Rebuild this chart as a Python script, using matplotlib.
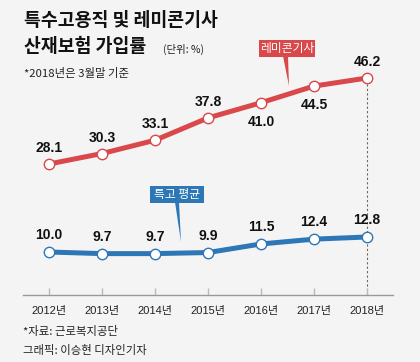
import matplotlib
matplotlib.use("Agg")
import matplotlib.pyplot as plt
from matplotlib.patches import Polygon

plt.rcParams['font.family'] = ['Liberation Sans', 'Noto Sans CJK KR', 'DejaVu Sans']

years = [2012, 2013, 2014, 2015, 2016, 2017, 2018]
year_labels = ['2012년', '2013년', '2014년', '2015년', '2016년', '2017년', '2018년']
remicon = [28.1, 30.3, 33.1, 37.8, 41.0, 44.5, 46.2]
special_avg = [10.0, 9.7, 9.7, 9.9, 11.5, 12.4, 12.8]
# label above (+1) or below (-1) the red point
remicon_label_side = [1, 1, 1, 1, -1, -1, 1]

RED = '#d9484a'
BLUE = '#2e77b6'
BG = '#f4f4f4'
W, H = 420, 362


def px(x, y):
    # pixel (from top-left) -> figure fraction
    return x / W, 1 - y / H


fig = plt.figure(figsize=(4.2, 3.62), dpi=100, facecolor=BG)
ax = fig.add_axes([23 / W, 1 - 295 / H, 370 / W, 255 / H])
ax.set_facecolor(BG)
ax2 = ax.twinx()

ax.set_xlim(2011.51, 2018.49)
ax.set_ylim(0.52, 54.2)
ax2.set_ylim(1.98, 49.55)

for a in (ax, ax2):
    for s in ('top', 'left', 'right'):
        a.spines[s].set_visible(False)
    a.set_yticks([])
ax2.spines['bottom'].set_visible(False)
ax.spines['bottom'].set_color('#999999')
ax.spines['bottom'].set_linewidth(1)

ax.set_xticks(years)
ax.set_xticklabels(year_labels, fontsize=8, color='#222222')
ax.tick_params(axis='x', direction='in', length=5, width=1, color='#bbbbbb', pad=8)

# dotted guide for 2018
ax.plot([2018, 2018], [0.52, remicon[-1]], color='#666666', lw=0.8,
        linestyle=(0, (2, 2)), zorder=1)

ax.plot(years, remicon, color=RED, lw=3.6, marker='o', markersize=7.5,
        markerfacecolor='white', markeredgecolor=RED, markeredgewidth=1, zorder=3)
ax2.plot(years, special_avg, color=BLUE, lw=3.6, marker='o', markersize=7.5,
         markerfacecolor='white', markeredgecolor=BLUE, markeredgewidth=1, zorder=3)

for x, v, side in zip(years, remicon, remicon_label_side):
    dy = 16 if side > 0 else -19
    ax.annotate(f'{v:.1f}', (x, v), xytext=(0, dy), textcoords='offset pixels',
                ha='center', va='center', fontsize=10, fontweight='bold', color='#111111')
for x, v in zip(years, special_avg):
    ax2.annotate(f'{v:.1f}', (x, v), xytext=(0, 17), textcoords='offset pixels',
                 ha='center', va='center', fontsize=10, fontweight='bold', color='#111111')

# callout boxes
def callout(box, tip, base, color, text):
    x0, y0, x1, y1 = box
    fig.patches.append(Polygon([px(x0, y0), px(x1, y0), px(x1, y1), px(x0, y1)],
                               closed=True, transform=fig.transFigure,
                               facecolor=color, edgecolor='none', zorder=5))
    fig.patches.append(Polygon([px(base[0], y1 - 1), px(base[1], y1 - 1), px(*tip)],
                               closed=True, transform=fig.transFigure,
                               facecolor=color, edgecolor='none', zorder=5))
    cx, cy = px((x0 + x1) / 2, (y0 + y1) / 2)
    fig.text(cx, cy, text, ha='center', va='center', fontsize=8.5, color='white',
             family=['Noto Sans CJK KR'], zorder=6)

callout((259, 40, 315, 57), (289, 86), (283, 288), RED, '레미콘기사')
callout((150, 186, 204, 203), (181, 242), (175, 179), BLUE, '특고 평균')

# titles
kr = ['Noto Sans CJK KR']
fig.text(*px(24, 21), '특수고용직 및 레미콘기사', fontsize=13.2, fontweight='bold',
         family=kr, va='center', ha='left', color='#111111')
fig.text(*px(24, 47), '산재보험 가입률', fontsize=13.2, fontweight='bold',
         family=kr, va='center', ha='left', color='#111111')
fig.text(*px(163, 49), '(단위: %)', fontsize=7.5, family=kr, va='center',
         ha='left', color='#222222')
fig.text(*px(24, 74), '*2018년은 3월말 기준', fontsize=8.2, family=kr,
         va='center', ha='left', color='#222222')

fig.text(*px(23, 332), '*자료: 근로복지공단', fontsize=8.2, family=kr,
         va='center', ha='left', color='#222222')
fig.text(*px(23, 350), '그래픽: 이승현 디자인기자', fontsize=8.2, family=kr,
         va='center', ha='left', color='#222222')

fig.savefig('out.png', dpi=100, facecolor=BG)
